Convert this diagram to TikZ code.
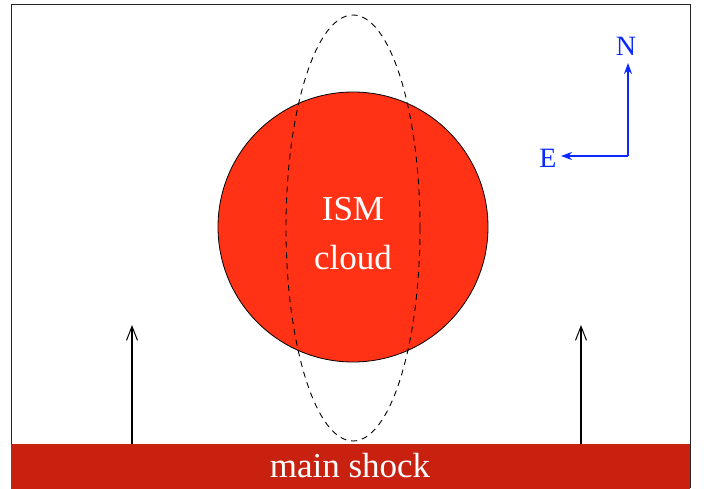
\documentclass[tikz,border=0pt]{standalone}
\usepackage{fontspec}
\setmainfont{Liberation Serif}
\usetikzlibrary{arrows.meta,shapes.geometric}
\definecolor{cloudred}{RGB}{255,50,22}
\definecolor{shockred}{RGB}{200,33,15}
\definecolor{dirblue}{RGB}{10,40,255}
\tikzset{
  frame/.style={draw=black!85, line width=1pt},
  flow/.style={line width=1.6pt, -{Straight Barb[length=14pt,width=11pt,line width=1pt]}},
  compass/.style={dirblue, line width=2.4pt, -{Stealth[length=11pt,width=8pt]}},
  bigtext/.style={text=white, font=\fontsize{35}{49}\selectfont, align=center},
  dirtext/.style={text=dirblue, font=\fontsize{28}{30}\selectfont},
}
\begin{document}
\begin{tikzpicture}[x=1pt,y=-1pt]
\useasboundingbox (0,0) rectangle (706,489);
\draw[frame] (11.5,488) -- (11.5,4.5) -- (690,4.5) -- (690,488);
\node[fill=shockred, minimum width=679pt, minimum height=45pt, inner sep=0pt, anchor=north west] (shock) at (11,444) {};
\node[bigtext] (shocklabel) at (350,466) {main shock};
\node[circle, fill=cloudred, draw=black, line width=0.8pt, minimum size=270pt, inner sep=0pt] (cloud) at (353,227) {};
\node[bigtext] (cloudlabel) at (353,234) {ISM\\cloud};
\draw[dashed, dash pattern=on 6pt off 5pt, line width=0.9pt] (353,228) ellipse [x radius=67, y radius=213];
\coordinate (a1s) at (132,444);
\coordinate (a1e) at (132,325);
\coordinate (a2s) at (581,444);
\coordinate (a2e) at (581,325);
\draw[flow] (a1s) -- (a1e);
\draw[flow] (a2s) -- (a2e);
\coordinate (corner) at (628,156);
\coordinate (ntip) at (628,63);
\coordinate (etip) at (561,156);
\node[dirtext] (N) at (626,46) {N};
\node[dirtext] (E) at (548,158) {E};
\draw[compass] (corner) -- (ntip);
\draw[compass] (corner) -- (etip);
\end{tikzpicture}
\end{document}
